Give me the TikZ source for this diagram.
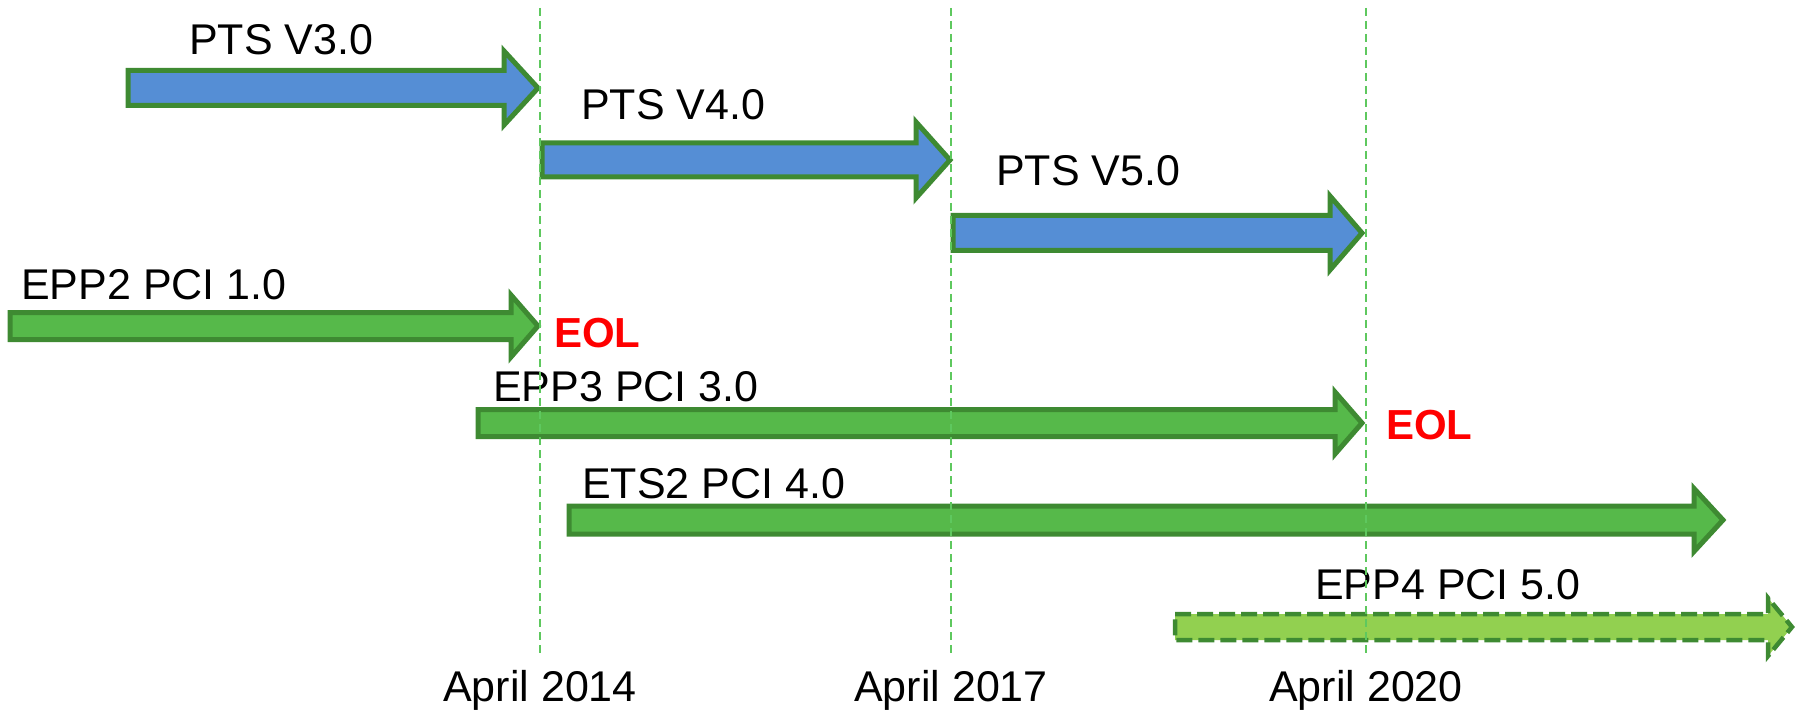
\documentclass[tikz,border=0pt]{standalone}
\usepackage{fontspec}
\setmainfont{Liberation Sans}
\usepackage[HTML]{xcolor}
\usepackage{tikz}
\usetikzlibrary{positioning}

\definecolor{ptsblue}{HTML}{558ED5}
\definecolor{pcigreen}{HTML}{56B94A}
\definecolor{newgreen}{HTML}{92D050}
\definecolor{edgegreen}{HTML}{3E8A32}
\definecolor{gridgreen}{HTML}{5EC85E}

\tikzset{
  bar/.style={draw=edgegreen, line width=5pt, line join=miter},
  ptsbar/.style={bar, fill=ptsblue},
  pcibar/.style={bar, fill=pcigreen},
  newbar/.style={bar, fill=newgreen, line width=4.5pt, dash pattern=on 16pt off 6pt},
  divider/.style={draw=gridgreen, line width=1.5pt, dash pattern=on 8pt off 5pt},
  lbl/.style={inner sep=0pt, anchor=base west, font=\fontsize{43}{50}\selectfont},
  eol/.style={lbl, text=red, font=\fontsize{42}{50}\selectfont\bfseries},
  datelbl/.style={inner sep=0pt, anchor=base, font=\fontsize{43}{50}\selectfont}
}

% style, x0, x1, y, shaft half, head half, head length
\newcommand{\tlarrow}[7]{%
  \draw[#1] (#2,{#4-#5}) -- ({#3-#7},{#4-#5}) -- ({#3-#7},{#4-#6}) -- (#3,#4)
    -- ({#3-#7},{#4+#6}) -- ({#3-#7},{#4+#5}) -- (#2,{#4+#5}) -- cycle;}

\begin{document}
\begin{tikzpicture}[x=1pt, y=-1pt]
    \useasboundingbox (0,0) rectangle (1797,714);

    % Draw bars
    \tlarrow{ptsbar}{128}{538}{88}{17.5}{37}{34}
    \tlarrow{ptsbar}{542}{950}{160}{17}{38}{34}
    \tlarrow{ptsbar}{953}{1362}{233}{17.5}{37}{32}
    \tlarrow{pcibar}{10}{538}{326}{13.5}{31}{27}
    \tlarrow{pcibar}{478}{1362}{423}{13.5}{31}{27}
    \tlarrow{pcibar}{569}{1723}{520}{14}{31.5}{29}
    \tlarrow{newbar}{1175}{1792}{627}{13}{29}{24}

    % Define nodes
    \node[lbl] (pts3) at (189,55) {PTS V3.0};
    \node[lbl] (pts4) at (581,120) {PTS V4.0};
    \node[lbl] (pts5) at (996,186) {PTS V5.0};
    \node[lbl] (epp2) at (21,299) {EPP2 PCI 1.0};
    \node[eol] (eol1) at (554,347) {EOL};
    \node[lbl] (epp3) at (493,401) {EPP3 PCI 3.0};
    \node[eol] (eol2) at (1386,439) {EOL};
    \node[lbl] (ets2) at (582,498) {ETS2 PCI 4.0};
    \node[lbl] (epp4) at (1315,599) {EPP4 PCI 5.0};
    \node[datelbl] (apr14) at (540,701) {April 2014};
    \node[datelbl] (apr17) at (951,701) {April 2017};
    \node[datelbl] (apr20) at (1366,701) {April 2020};

    % Draw dividers
    \foreach \x in {540,951,1366}
        \draw[divider] (\x,8) -- (\x,655);
\end{tikzpicture}
\end{document}
